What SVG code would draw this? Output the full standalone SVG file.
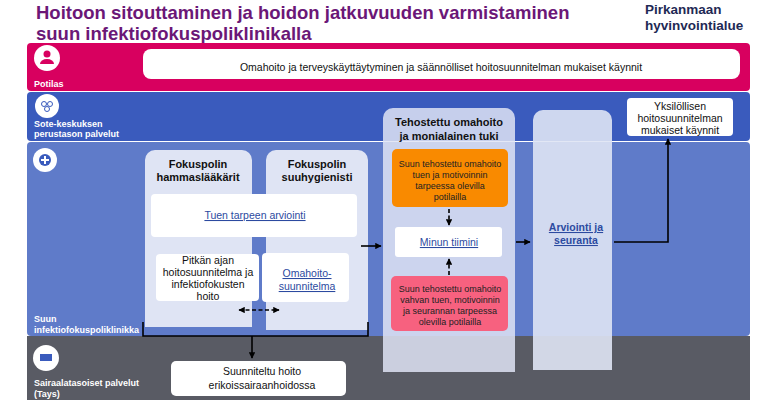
<svg xmlns="http://www.w3.org/2000/svg" width="760" height="400" viewBox="0 0 760 400">
<style>
text{font-family:"Liberation Sans",Arial,sans-serif}
.lbl{font-size:9px;font-weight:bold;fill:#fff}
.wb{fill:#fff}
.card{fill:#dfe4f4}
.t{font-size:10.5px;fill:#111;text-anchor:middle}
.s{font-size:9px;fill:#222;text-anchor:middle}
.lk{font-size:10.5px;fill:#2c4aa0;text-anchor:middle;text-decoration:underline}
.h{font-size:11px;font-weight:bold;fill:#111;text-anchor:middle}
.ln{stroke:#000;stroke-width:1.6;fill:none}
.dl{stroke:#000;stroke-width:1.6;fill:none;stroke-dasharray:4 2.5}
.ic{fill:#fff}
</style>
<defs><marker id="a" viewBox="0 0 10 10" refX="9" refY="5" markerWidth="4" markerHeight="4" orient="auto-start-reverse"><path d="M0,0L10,5L0,10z" fill="#000"/></marker></defs>
<rect width="760" height="400" fill="#fff"/>
<g id="title">
<text x="36" y="19" font-size="18.5" font-weight="bold" fill="#6b1777">Hoitoon sitouttaminen ja hoidon jatkuvuuden varmistaminen</text>
<text x="36" y="40" font-size="18.5" font-weight="bold" fill="#6b1777">suun infektiofokuspoliklinikalla</text>
<text x="645" y="14" font-size="13.5" font-weight="bold" fill="#1f2a55">Pirkanmaan</text>
<text x="645" y="30" font-size="13.5" font-weight="bold" fill="#1f2a55">hyvinvointialue</text>
</g>
<g id="bands">
<rect x="27" y="43" width="723" height="48" rx="4" fill="#d8005f"/>
<rect x="27" y="92" width="723" height="49" rx="4" fill="#3a5bbd"/>
<rect x="27" y="142" width="723" height="194" rx="4" fill="#5f7bc9"/>
<rect x="27" y="336" width="723" height="64" fill="#595b64"/>
<circle cx="47" cy="58" r="13" class="ic"/><circle cx="47" cy="54" r="3.5" fill="#d8005f"/><path d="M40,64a7,5 0 0 1 14,0z" fill="#d8005f"/>
<circle cx="47" cy="106" r="12" class="ic"/><circle cx="44" cy="104" r="2.5" fill="none" stroke="#3a5bbd"/><circle cx="50" cy="104" r="2.5" fill="none" stroke="#3a5bbd"/><circle cx="47" cy="109" r="2.5" fill="none" stroke="#3a5bbd"/>
<circle cx="45" cy="160" r="12" class="ic"/><circle cx="45" cy="160" r="6" fill="#3a5bbd"/><path d="M45,156v8M41,160h8" stroke="#fff" stroke-width="2"/>
<circle cx="46" cy="358" r="13" class="ic"/><rect x="40" y="354" width="12" height="7" fill="#3a5bbd"/>
<text class="lbl" x="34" y="87">Potilas</text>
<text class="lbl" x="34" y="127">Sote-keskuksen</text><text class="lbl" x="34" y="137">perustason palvelut</text>
<text class="lbl" x="34" y="322">Suun</text><text class="lbl" x="34" y="333">infektiofokuspoliklinikka</text>
<text class="lbl" x="34" y="386">Sairaalatasoiset palvelut</text><text class="lbl" x="34" y="397">(Tays)</text>
</g>
<g id="n-omahoito"><rect x="143" y="49" width="597" height="30" rx="8" class="wb"/><text class="t" x="441" y="71">Omahoito ja terveyskäyttäytyminen ja säännölliset hoitosuunnitelman mukaiset käynnit</text></g>
<g id="col-hl"><path d="M145,327V160a10,10 0 0 1 10,-10h87a10,10 0 0 1 10,10V327z" class="card"/><text class="h" x="198" y="168">Fokuspolin</text><text class="h" x="198" y="181">hammaslääkärit</text></g>
<g id="col-sh"><path d="M266,330V160a10,10 0 0 1 10,-10h82a10,10 0 0 1 10,10V330z" class="card"/><text class="h" x="317" y="168">Fokuspolin</text><text class="h" x="317" y="181">suuhygienisti</text></g>
<g id="n-tuen"><rect x="151" y="194" width="206" height="43" rx="4" class="wb"/><text class="lk" x="255" y="219">Tuen tarpeen arviointi</text></g>
<g id="n-pitkan"><rect x="156" y="254" width="103" height="47" rx="4" class="wb"/><text class="t" x="208" y="264">Pitkän ajan</text><text class="t" x="208" y="276">hoitosuunnitelma ja</text><text class="t" x="208" y="288">infektiofokusten</text><text class="t" x="208" y="300">hoito</text></g>
<g id="n-omasuun"><rect x="262" y="253" width="87" height="49" rx="4" class="wb"/><text class="lk" x="307" y="277">Omahoito-</text><text class="lk" x="307" y="290">suunnitelma</text></g>
<g id="col-teh"><path d="M383,372V118a10,10 0 0 1 10,-10h112a10,10 0 0 1 10,10V372z" fill="#dfe4f4" fill-opacity="0.85"/><text class="h" x="449" y="126">Tehostettu omahoito</text><text class="h" x="449" y="140">ja monialainen tuki</text></g>
<g id="n-orange"><rect x="392" y="149" width="116" height="58" rx="5" fill="#f98a00"/><text class="s" x="450" y="167">Suun tehostettu omahoito</text><text class="s" x="450" y="178">tuen ja motivoinnin</text><text class="s" x="450" y="189">tarpeessa olevilla</text><text class="s" x="450" y="200">potilailla</text></g>
<g id="n-tiimi"><rect x="395" y="227" width="107" height="30" rx="3" class="wb"/><text class="lk" x="449" y="246">Minun tiimini</text></g>
<g id="n-pink"><rect x="391" y="276" width="117" height="55" rx="5" fill="#f7617f"/><text class="s" x="450" y="292">Suun tehostettu omahoito</text><text class="s" x="450" y="303">vahvan tuen, motivoinnin</text><text class="s" x="450" y="314">ja seurannan tarpeessa</text><text class="s" x="450" y="325">olevilla potilailla</text></g>
<g id="col-arv"><path d="M533,370V120a10,10 0 0 1 10,-10h59a10,10 0 0 1 10,10V370z" fill="#dfe4f4" fill-opacity="0.9"/><text class="lk" x="576" y="231" font-weight="bold">Arviointi ja</text><text class="lk" x="576" y="244" font-weight="bold">seuranta</text></g>
<g id="n-yks"><rect x="627" y="98" width="106" height="38" rx="4" class="wb"/><text class="t" x="680" y="110">Yksilöllisen</text><text class="t" x="680" y="122">hoitosuunnitelman</text><text class="t" x="680" y="134">mukaiset käynnit</text></g>
<g id="n-suunn"><rect x="171" y="361" width="175" height="35" rx="5" class="wb"/><text class="t" x="262" y="375">Suunniteltu hoito</text><text class="t" x="262" y="389">erikoissairaanhoidossa</text></g>
<g id="connectors">
<path class="dl" d="M239,310H279" marker-start="url(#a)" marker-end="url(#a)"/>
<path class="ln" d="M143,322V336H368V322"/>
<path class="ln" d="M252,336V358" marker-end="url(#a)"/>
<path class="ln" d="M361,246H381" marker-end="url(#a)"/>
<path class="dl" d="M449,209V225" marker-end="url(#a)"/>
<path class="dl" d="M449,275V259" marker-end="url(#a)"/>
<path class="ln" d="M516,242H530" marker-end="url(#a)"/>
<path class="ln" d="M614,242H668V139" marker-end="url(#a)"/>
</g>
</svg>
